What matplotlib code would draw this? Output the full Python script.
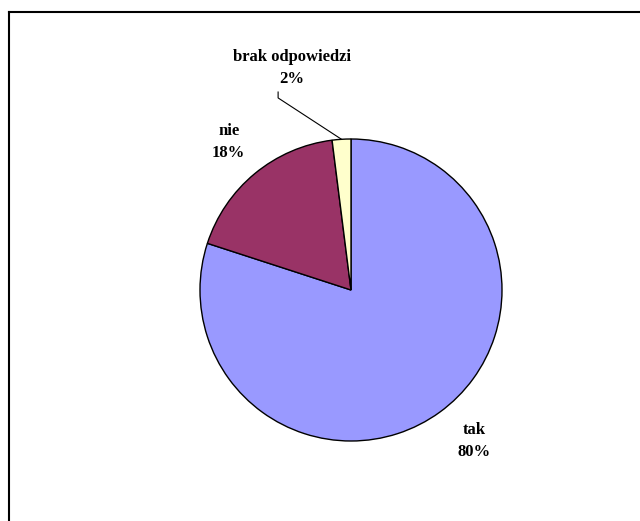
import numpy as np
import matplotlib
matplotlib.use("Agg")
import matplotlib.pyplot as plt

# Survey answers
labels = ["tak", "nie", "brak odpowiedzi"]
shares = [80, 18, 2]
colors = ["#9999FF", "#993366", "#FFFFCC"]

# Label placement relative to pie centre, in radius units
label_offsets = [(0.815, -1.0), (-0.81, 0.98), (-0.39, 1.47)]

plt.rcParams['font.family'] = ['Liberation Serif', 'DejaVu Serif']

fig = plt.figure(figsize=(6.4, 5.21), dpi=100)
ax = fig.add_axes([0, 0, 1, 1])

cx, cy, r = 351, 231, 151
wedges, _ = ax.pie(
    shares,
    colors=colors,
    startangle=90,
    counterclock=False,
    center=(cx, cy),
    radius=r,
    frame=True,
    wedgeprops=dict(edgecolor='black', linewidth=1.0),
)
ax.set_xlim(0, 640)
ax.set_ylim(0, 521)
ax.set_aspect('equal')
ax.axis('off')

for lab, val, (ox, oy) in zip(labels, shares, label_offsets):
    ax.text(cx + ox * r, cy + oy * r, f"{lab}\n{val}%",
            ha='center', va='center', fontsize=12, fontweight='bold',
            linespacing=1.55)

# Leader line for the small slice
w = wedges[2]
mid = np.deg2rad((w.theta1 + w.theta2) / 2)
ex, ey = cx + r * np.cos(mid), cy + r * np.sin(mid)
lx = cx + label_offsets[2][0] * r - 14
ax.plot([ex, lx, lx], [ey, cy + 1.272 * r, cy + 1.311 * r],
        color='black', linewidth=0.8)

# Chart area border (top and left visible)
ax.plot([8.5, 8.5], [0, 509.5], color='black', linewidth=1.5, solid_capstyle='projecting')
ax.plot([8.5, 640], [509.5, 509.5], color='black', linewidth=1.5, solid_capstyle='projecting')

fig.savefig("out.png", dpi=100)
